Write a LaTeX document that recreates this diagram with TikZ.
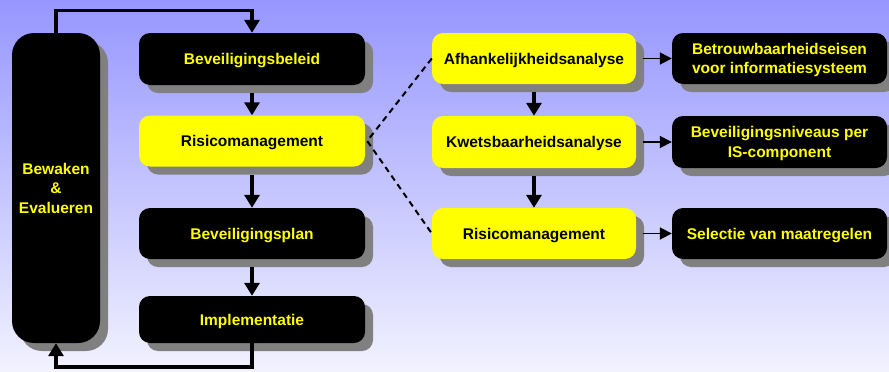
\documentclass[tikz,border=0pt]{standalone}
\usepackage{fontspec}
\setmainfont{Liberation Sans}
\usetikzlibrary{shadows,arrows.meta}
\definecolor{bgtop}{RGB}{150,150,255}
\definecolor{bgbot}{RGB}{242,242,255}
\definecolor{shade}{RGB}{128,128,128}
\definecolor{hilite}{RGB}{255,255,0}
\tikzset{
  box/.style={rectangle, rounded corners=11pt, inner sep=2pt, align=center,
    text depth=0pt,
    font=\fontsize{15.5}{19.5}\selectfont\bfseries,
    general shadow={fill=shade, shadow xshift=8pt, shadow yshift=-8pt}},
  darkbox/.style={box, fill=black, text=hilite},
  litebox/.style={box, fill=hilite, text=black},
  flow/.style={line width=3.2pt, -{Triangle[width=15pt,length=13pt]}},
  link/.style={line width=1.8pt, -{Triangle[width=12pt,length=12pt]}},
  dashlink/.style={line width=2pt, dash pattern=on 6pt off 4.5pt}
}
\begin{document}
\begin{tikzpicture}[x=1pt, y=-1pt]
  % background
  \shade[top color=bgtop, bottom color=bgbot] (0,0) rectangle (889,372);
  \useasboundingbox (0,0) rectangle (889,372);

  % left column
  \node[darkbox, rounded corners=22pt, minimum width=88pt, minimum height=310pt] (bew) at (56,188) {Bewaken\\\&\\Evalueren};
  \node[darkbox, minimum width=226pt, minimum height=52pt] (beleid) at (252,59) {Beveiligingsbeleid};
  \node[litebox, minimum width=226pt, minimum height=51pt] (risk) at (252,141) {Risicomanagement};
  \node[darkbox, minimum width=226pt, minimum height=51pt] (plan) at (252,233.5) {Beveiligingsplan};
  \node[darkbox, minimum width=226pt, minimum height=47pt] (impl) at (252,319.5) {Implementatie};

  % analysis column
  \node[litebox, minimum width=204pt, minimum height=51pt] (afh) at (534,58.5) {Afhankelijkheidsanalyse};
  \node[litebox, minimum width=204pt, minimum height=52pt] (kwets) at (534,142) {Kwetsbaarheidsanalyse};
  \node[litebox, minimum width=204pt, minimum height=51pt] (riskb) at (534,233.5) {Risicomanagement};

  % results column
  \node[darkbox, minimum width=215pt, minimum height=51pt] (eisen) at (779.5,58.5) {Betrouwbaarheidseisen\\voor informatiesysteem};
  \node[darkbox, minimum width=215pt, minimum height=52pt] (niveau) at (779.5,142) {Beveiligingsniveaus per\\IS-component};
  \node[darkbox, minimum width=215pt, minimum height=51pt] (sel) at (779.5,233.5) {Selectie van maatregelen};

  % feedback loop
  \coordinate (topy) at (0,10.5);
  \coordinate (boty) at (0,367);
  \draw[flow] (bew.north) -- (bew.north |- topy) -- (beleid.north |- topy) -- (beleid.north);
  \draw[flow] (impl.south) -- (impl.south |- boty) -- (bew.south |- boty) -- (bew.south);

  % main flow
  \draw[flow] ([yshift=-8pt]beleid.south) -- (risk.north);
  \draw[flow] ([yshift=-8pt]risk.south) -- (plan.north);
  \draw[flow] ([yshift=-8pt]plan.south) -- (impl.north);

  % analysis flow
  \draw[flow] ([yshift=-8pt]afh.south) -- (kwets.north);
  \draw[flow] ([yshift=-8pt]kwets.south) -- (riskb.north);

  % results
  \draw[link] ([xshift=7pt]afh.east) -- (eisen.west);
  \draw[link] ([xshift=7pt]kwets.east) -- (niveau.west);
  \draw[link] ([xshift=7pt]riskb.east) -- (sel.west);

  % detail of risk management
  \coordinate (fan) at ([xshift=2pt]risk.east);
  \draw[dashlink] (afh.west) -- (fan) -- (riskb.west);
\end{tikzpicture}
\end{document}
